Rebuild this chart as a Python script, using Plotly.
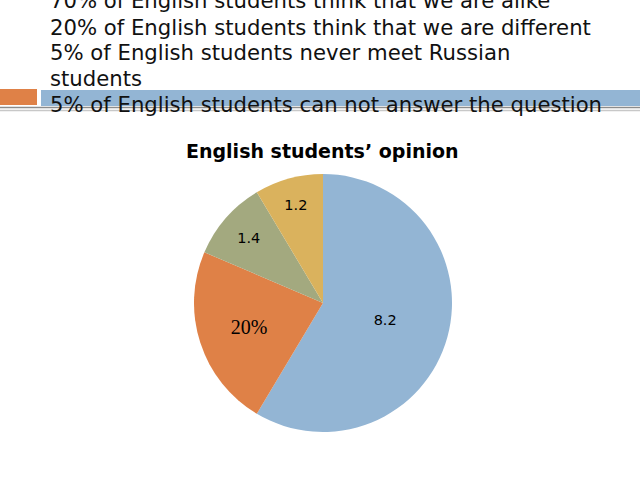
import plotly.graph_objects as go

labels = ["alike", "different", "never meet", "can not answer"]
values = [8.2, 3.2, 1.4, 1.2]
slice_text = ["8.2", "20%", "1.4", "1.2"]
colors = ["#93b5d4", "#df8147", "#a3a97f", "#dab25d"]
text_fonts = ["DejaVu Sans", "Liberation Serif", "DejaVu Sans", "DejaVu Sans"]
text_sizes = [14.5, 20, 14.5, 14.5]

slide_lines = [
    "70% of English students think that we are alike",
    "20% of English students think that we are different",
    "5% of English students never meet Russian",
    "students",
    "5% of English students can not answer the question",
]
chart_title = "English students’ opinion"

W, H = 640, 480
cx, cy, R = 323, 303, 129

def px_x(x):
    return x / W

def px_y(y):
    return 1 - y / H

fig = go.Figure(go.Pie(
    labels=labels,
    values=values,
    text=slice_text,
    textinfo="text",
    textposition="inside",
    insidetextorientation="horizontal",
    textfont=dict(family=text_fonts, size=text_sizes, color="#000000"),
    marker=dict(colors=colors, line=dict(width=0)),
    sort=False,
    direction="clockwise",
    rotation=0,
    showlegend=False,
    hoverinfo="label+value",
    domain=dict(x=[px_x(cx - R), px_x(cx + R)], y=[px_y(cy + R), px_y(cy - R)]),
))

shapes = [
    dict(type="rect", xref="paper", yref="paper", x0=0, x1=px_x(37), y0=px_y(105), y1=px_y(89),
         fillcolor="#df8147", line=dict(width=0), layer="below"),
    dict(type="rect", xref="paper", yref="paper", x0=px_x(41), x1=1, y0=px_y(106), y1=px_y(90),
         fillcolor="#93b5d4", line=dict(width=0), layer="below"),
    dict(type="line", xref="paper", yref="paper", x0=0, x1=1, y0=px_y(107.5), y1=px_y(107.5),
         line=dict(color="#8c8c8c", width=1.5), layer="below"),
    dict(type="line", xref="paper", yref="paper", x0=0, x1=1, y0=px_y(110.5), y1=px_y(110.5),
         line=dict(color="#c8c8c8", width=1.5), layer="below"),
]

line_y = [1, 27, 53, 79, 104]
annotations = []
for txt, yy in zip(slide_lines, line_y):
    annotations.append(dict(
        text=txt, xref="paper", yref="paper",
        x=px_x(48), y=px_y(yy), xanchor="left", yanchor="middle", align="left", showarrow=False,
        font=dict(family="DejaVu Sans", size=21.2, color="#111111")))
annotations.append(dict(
    text="<b>" + chart_title + "</b>", xref="paper", yref="paper",
    x=px_x(322), y=px_y(151), xanchor="center", yanchor="middle", showarrow=False,
    font=dict(family="DejaVu Sans", size=19, color="#000000")))

fig.update_layout(
    width=W, height=H,
    margin=dict(l=0, r=0, t=0, b=0),
    paper_bgcolor="#ffffff",
    plot_bgcolor="#ffffff",
    shapes=shapes,
    annotations=annotations,
)

fig.write_html("out.html", config={"displayModeBar": False},
               post_script="document.body.style.margin='0';document.body.style.overflow='hidden';")
